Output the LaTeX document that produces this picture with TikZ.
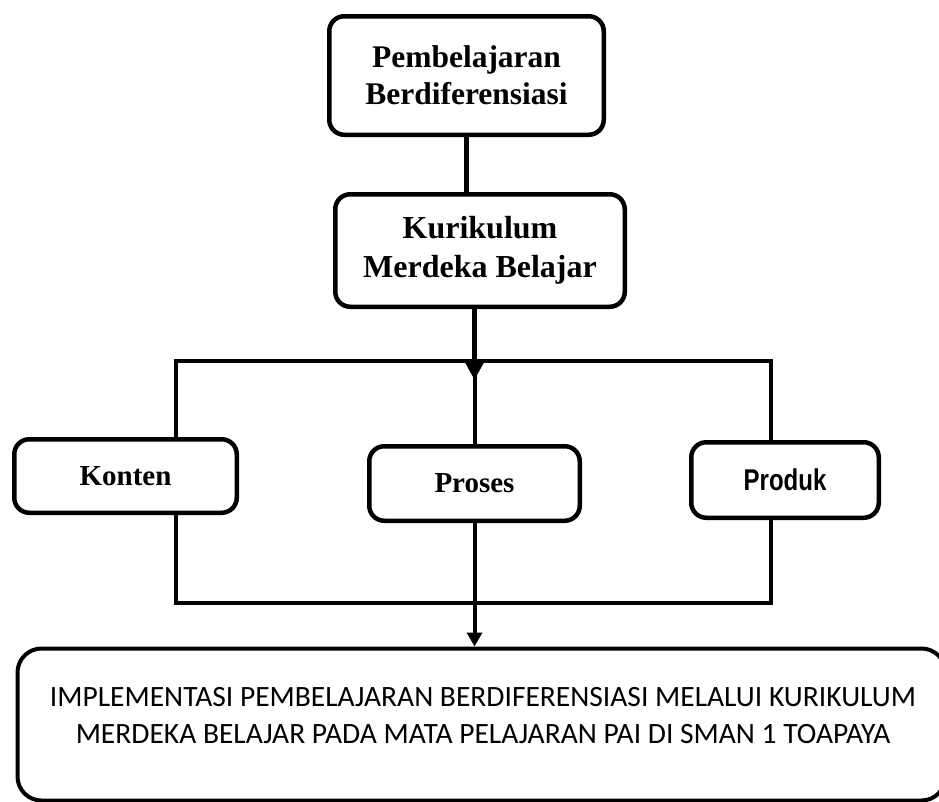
\documentclass[tikz,border=0pt]{standalone}
\usepackage{fontspec}
\setmainfont{Liberation Serif}
\newfontfamily\calibrifont{Carlito}
\newfontfamily\narrowsans[FakeStretch=0.8]{Liberation Sans}
\usetikzlibrary{arrows.meta}
\begin{document}
\begin{tikzpicture}[x=1pt,y=-1pt,
  box/.style={draw, rounded corners=15pt, line width=4.5pt, inner sep=0pt, align=center},
  conn/.style={line width=4.5pt},
  bus/.style={line width=4pt},
  headtip/.style={-{Triangle[width=17pt,length=17pt]}},
  foottip/.style={-{Triangle[width=15pt,length=14pt]}}]
\useasboundingbox (0,0) rectangle (939,801);

\node[box, minimum width=274.5pt, minimum height=118.5pt,
  font=\bfseries\fontsize{31.5}{37}\selectfont] (pb) at (466.5,75.5) {Pembelajaran\\Berdiferensiasi};
\node[box, minimum width=289.5pt, minimum height=112.5pt,
  font=\bfseries\fontsize{32}{39}\selectfont] (kur) at (480,250.5) {Kurikulum\\Merdeka Belajar};
\node[box, minimum width=222.5pt, minimum height=73.5pt,
  font=\bfseries\fontsize{29}{34}\selectfont] (kon) at (125.5,476) {Konten};
\node[box, minimum width=210.5pt, minimum height=74.5pt,
  font=\bfseries\fontsize{29}{34}\selectfont] (pro) at (474.5,483.5) {Proses};
\node[box, minimum width=187.5pt, minimum height=75.5pt,
  font=\narrowsans\bfseries\fontsize{30}{34}\selectfont] (prd) at (785,480) {Produk};
\node[box, rounded corners=24pt, line width=4pt, minimum width=928pt, minimum height=152pt] (impl) at (481.5,724.5) {};
\node[align=center, inner sep=0pt, font=\calibrifont\fontsize{29.5}{37}\selectfont] (impltext) at (483,716)
  {IMPLEMENTASI PEMBELAJARAN BERDIFERENSIASI MELALUI KURIKULUM\\MERDEKA BELAJAR PADA MATA PELAJARAN PAI DI SMAN 1 TOAPAYA};

\coordinate (busL) at (176,361);
\coordinate (busR) at (771,361);
\coordinate (botL) at (176,603);
\coordinate (botR) at (771,603);
\coordinate (tip) at (474.5,380);

\draw[conn] (pb.south) -- (pb.south |- kur.north);
\draw[conn, headtip] (kur.south -| pro.north) -- (tip);
\draw[bus] (kon.north -| busL) -- (busL) -- (busR) -- (prd.north -| busR);
\draw[bus] (pro.north |- busL) -- (pro.north);
\draw[bus] (kon.south -| botL) -- (botL) -- (botR) -- (prd.south -| botR);
\draw[bus, foottip] (pro.south) -- (pro.south |- impl.north);
\end{tikzpicture}
\end{document}
